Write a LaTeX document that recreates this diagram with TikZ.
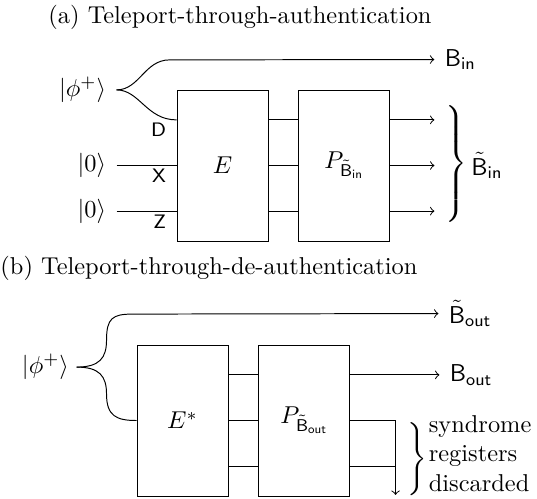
\documentclass[tikz,border=0pt]{standalone}
\usepackage{amsmath}
\usetikzlibrary{calc,positioning}

\newcommand{\kt}[1]{\ensuremath{\lvert #1\rangle}}
\newcommand{\rg}[1]{\mathsf{#1}}

\begin{document}
\begin{tikzpicture}[x=0.41pt, y=-0.41pt,
  every node/.style={inner sep=0pt},
  gate/.style={draw, minimum width=37.3pt, minimum height=61.9pt},
  port/.style={font=\sffamily\footnotesize}]
  \useasboundingbox (0,0) rectangle (537,498);

  % (a)
  \node[anchor=west] (capa) at (48,17) {(a) Teleport-through-authentication};
  \node[gate] (E) at (222.5,165.5) {$E$};
  \node[gate, right=12.3pt of E] (P) {$P_{\tilde{\rg{B}}_{\rg{in}}}$};
  \coordinate (dw) at ([yshift=18.7pt]E.west);
  \coordinate (xw) at (E.west);
  \coordinate (zw) at ([yshift=-18.7pt]E.west);
  \coordinate[above left=12.3pt and 24.6pt of dw] (fa);
  \coordinate[left=24.6pt of xw] (xa);
  \coordinate[left=24.6pt of zw] (za);
  \coordinate[above right=12.3pt and 18pt of P.north east] (ba);
  \node[left=4.1pt of fa] (epra) {$\kt{\phi^+}$};
  \node[left=4.1pt of xa] (ka) {$\kt{0}$};
  \node[left=4.1pt of za] (kb) {$\kt{0}$};
  \node[port, below left=1.2pt and 4.1pt of dw] (dl) {D};
  \node[port, below left=1.2pt and 4.1pt of xw] (xl) {X};
  \node[port, below left=1.2pt and 4.1pt of zw] (zl) {Z};
  \draw[->] (fa) .. controls +(23,0) and +(-25,0) .. ++(53,-30) -- (ba);
  \draw (fa) .. controls +(23,0) and +(-30,0) .. (dw);
  \draw (xa) -- (xw);
  \draw (za) -- (zw);
  \foreach \s/\n in {18.7/1,0/2,-18.7/3}{
    \draw ([yshift=\s pt]E.east) -- ([yshift=\s pt]P.west);
    \draw[->] ([yshift=\s pt]P.east) -- ++(44,0) coordinate (o\n);
  }
  \node[right=4.1pt of ba] (bin) {$\rg{B}_{\rg{in}}$};
  \node[right=3.3pt of o2] (bra) {$\left.\rule[-23pt]{0pt}{46pt}\right\}$};
  \node[right=1.2pt of bra] (btin) {$\tilde{\rg{B}}_{\rg{in}}$};

  % (b)
  \node[anchor=west] (capb) at (0,268) {(b) Teleport-through-de-authentication};
  \node[gate] (Es) at (182.5,420.5) {$E^*$};
  \node[gate, right=12.3pt of Es] (Ps) {$P_{\tilde{\rg{B}}_{\rg{out}}}$};
  \coordinate[above left=21.9pt and 24.6pt of Es.west] (fb);
  \coordinate[above right=12.7pt and 36.1pt of Ps.north east] (bt);
  \coordinate[right=36.5pt of Ps.east, yshift=18.7pt] (bo);
  \coordinate[right=18.5pt of Ps.east] (sd);
  \coordinate[below=30.5pt of sd] (dc);
  \node[left=2.9pt of fb] (eprb) {$\kt{\phi^+}$};
  \draw[->] (fb) .. controls +(23,0) and +(0,18) .. ++(30,-27)
    .. controls +(0,-22) and +(-20,0) .. ++(26,-26) -- (bt);
  \draw (fb) .. controls +(23,0) and +(0,-18) .. ++(30,27)
    .. controls +(0,22) and +(-20,0) .. (Es.west);
  \foreach \s in {18.7,0,-18.7}
    \draw ([yshift=\s pt]Es.east) -- ([yshift=\s pt]Ps.west);
  \draw[->] ([yshift=18.7pt]Ps.east) -- (bo);
  \draw[->] (Ps.east) -| (dc);
  \draw ([yshift=-18.7pt]Ps.east) -- ([yshift=-18.7pt]sd);
  \node[right=3.3pt of sd, yshift=-16.5pt] (brb) {$\left.\rule[-13.5pt]{0pt}{27pt}\right\}$};
  \node[right=4.1pt of bt] (btout) {$\tilde{\rg{B}}_{\rg{out}}$};
  \node[right=4.1pt of bo] (bout) {$\rg{B}_{\rg{out}}$};
  \node[right=0.5pt of brb, yshift=3pt, align=left] (disc) {syndrome\\registers\\discarded};
\end{tikzpicture}
\end{document}
